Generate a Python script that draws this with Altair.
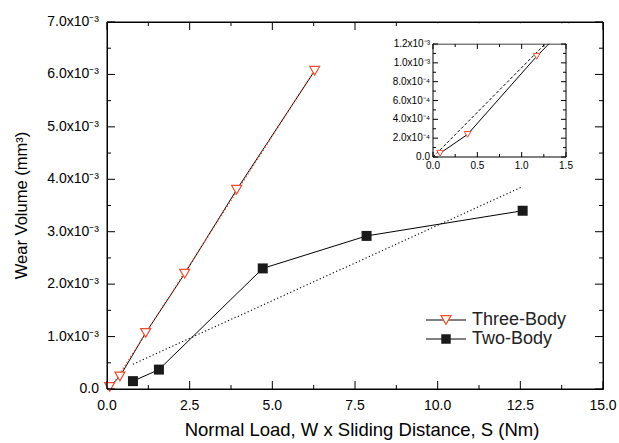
import altair as alt
import pandas as pd

# ---------------- data ----------------
three_x = [0.08, 0.39, 1.17, 2.35, 3.92, 6.28]
three_y = [0.00004, 0.00024, 0.00107, 0.00220, 0.00380, 0.00607]
two_x = [0.785, 1.57, 4.71, 7.85, 12.57]
two_y = [0.00015, 0.00037, 0.00230, 0.00292, 0.00340]
inset_fit_x = [0.0, 1.264]
inset_fit_y = [0.0, 0.0012]

x_major = [0.0, 2.5, 5.0, 7.5, 10.0, 12.5, 15.0]
x_labels = ["0.0", "2.5", "5.0", "7.5", "10.0", "12.5", "15.0"]
x_minor = [1.25, 3.75, 6.25, 8.75, 11.25, 13.75]
y_major = [0.0, 0.001, 0.002, 0.003, 0.004, 0.005, 0.006, 0.007]
y_labels = ["0.0", "1.0x10⁻³", "2.0x10⁻³", "3.0x10⁻³", "4.0x10⁻³",
            "5.0x10⁻³", "6.0x10⁻³", "7.0x10⁻³"]
y_minor = [0.0005, 0.0015, 0.0025, 0.0035, 0.0045, 0.0055, 0.0065]
ix_major = [0.0, 0.5, 1.0, 1.5]
ix_labels = ["0.0", "0.5", "1.0", "1.5"]
ix_minor = [0.25, 0.75, 1.25]
iy_major = [0.0, 0.0002, 0.0004, 0.0006, 0.0008, 0.0010, 0.0012]
iy_labels = ["0.0", "2.0x10⁻⁴", "4.0x10⁻⁴", "6.0x10⁻⁴", "8.0x10⁻⁴",
             "1.0x10⁻³", "1.2x10⁻³"]
iy_minor = [0.0001, 0.0003, 0.0005, 0.0007, 0.0009, 0.0011]

series_names = ["Three-Body", "Two-Body"]
x_title = "Normal Load, W x Sliding Distance, S  (Nm)"
y_title = "Wear Volume (mm³)"

df3 = pd.DataFrame({"x": three_x, "y": three_y})
df2 = pd.DataFrame({"x": two_x, "y": two_y})
dfi = pd.DataFrame({"x": inset_fit_x, "y": inset_fit_y})
dfi3 = df3[df3["x"] <= max(ix_major)]
dframe = pd.DataFrame({"x": [min(ix_major)], "x2": [max(ix_major)],
                       "y": [min(iy_major)], "y2": [max(iy_major)]})
dmframe = pd.DataFrame({"x": [min(x_major)], "x2": [max(x_major)],
                        "y": [min(y_major)], "y2": [max(y_major)]})

# ---------------- layout ----------------
W, H = 496, 367
IL, IR, IT, IB = 326, 459, 22, 135
FONT = "Liberation Sans"
RED = "#EE4D2D"
MAJ, MIN = 8, 4
IMAJ, IMIN = 5, 3

main_xs = alt.Scale(domain=[0, 15], nice=False, zero=False)
main_ys = alt.Scale(domain=[0, 0.007], nice=False, zero=False)
in_xs = alt.Scale(domain=[0, 1.5], range=[IL, IR], nice=False, zero=False)
in_ys = alt.Scale(domain=[0, 0.0012], range=[IB, IT], nice=False, zero=False)


def MX(f="x"):
    return alt.X(f"{f}:Q", scale=main_xs, axis=None)


def MY(f="y"):
    return alt.Y(f"{f}:Q", scale=main_ys, axis=None)


def IX(f="x"):
    return alt.X(f"{f}:Q", scale=in_xs, axis=None)


def IY(f="y"):
    return alt.Y(f"{f}:Q", scale=in_ys, axis=None)


def vticks(values, X, y0, y1):
    return alt.Chart(pd.DataFrame({"v": values})).mark_rule(
        color="black", strokeWidth=1).encode(x=X("v"), y=alt.value(y0), y2=alt.value(y1))


def hticks(values, Y, x0, x1):
    return alt.Chart(pd.DataFrame({"v": values})).mark_rule(
        color="black", strokeWidth=1).encode(y=Y("v"), x=alt.value(x0), x2=alt.value(x1))


def xlabels(values, labels, X, ypos, size):
    return alt.Chart(pd.DataFrame({"v": values, "t": labels})).mark_text(
        font=FONT, fontSize=size, color="black", align="center", baseline="middle").encode(
        x=X("v"), y=alt.value(ypos), text="t:N")


def ylabels(values, labels, Y, xpos, size):
    return alt.Chart(pd.DataFrame({"v": values, "t": labels})).mark_text(
        font=FONT, fontSize=size, color="black", align="right", baseline="middle").encode(
        y=Y("v"), x=alt.value(xpos), text="t:N")


one = pd.DataFrame({"a": [0]})

# ---------------- main plot ----------------
m_frame = alt.Chart(dmframe).mark_rect(fillOpacity=0, stroke="black", strokeWidth=1).encode(
    x=MX(), x2="x2:Q", y=MY(), y2="y2:Q")
m_line3 = alt.Chart(df3).mark_line(color="black", strokeWidth=1).encode(x=MX(), y=MY())
m_fit3 = alt.Chart(df3).transform_regression("x", "y").mark_line(
    color=RED, strokeWidth=1.3, strokeDash=[1.3, 2.2]).encode(x=MX(), y=MY())
m_line2 = alt.Chart(df2).mark_line(color="black", strokeWidth=1).encode(x=MX(), y=MY())
m_fit2 = alt.Chart(df2).transform_regression("x", "y").mark_line(
    color="black", strokeWidth=1.1, strokeDash=[1.2, 2.4]).encode(x=MX(), y=MY())
m_pts3 = alt.Chart(df3).mark_point(shape="triangle-down", size=100, filled=True,
                                   fill="white", stroke=RED, strokeWidth=1.2,
                                   opacity=1).encode(x=MX(), y=MY())
m_pts2 = alt.Chart(df2).mark_point(shape="square", size=100, filled=True,
                                   color="#1a1a1a", opacity=1).encode(x=MX(), y=MY())

m_ticks = [
    vticks(x_major, MX, H, H - MAJ), vticks(x_minor, MX, H, H - MIN),
    vticks(x_major, MX, 0, MAJ), vticks(x_minor, MX, 0, MIN),
    hticks(y_major, MY, 0, MAJ), hticks(y_minor, MY, 0, MIN),
    hticks(y_major, MY, W, W - MAJ), hticks(y_minor, MY, W, W - MIN),
]
m_labels = [
    xlabels(x_major, x_labels, MX, H + 17, 14),
    ylabels(y_major, y_labels, MY, -8, 14),
]
m_titles = [
    alt.Chart(one).mark_text(font=FONT, fontSize=18.5, color="black", align="center",
                             baseline="middle", text=x_title).encode(
        x=alt.value(255), y=alt.value(H + 41)),
    alt.Chart(one).mark_text(font=FONT, fontSize=16.5, color="black", align="center",
                             baseline="middle", angle=270, text=y_title).encode(
        x=alt.value(-85), y=alt.value(H / 2)),
]

# legend (drawn inside the main plot)
LX0, LX1, LM, LT = 319, 359, 339, 365
LY = [298, 317]
leg = []
for i, name in enumerate(series_names):
    leg.append(alt.Chart(one).mark_rule(color="black", strokeWidth=1).encode(
        x=alt.value(LX0), x2=alt.value(LX1), y=alt.value(LY[i])))
    if i == 0:
        leg.append(alt.Chart(one).mark_point(shape="triangle-down", size=100, filled=True,
                                             fill="white", stroke=RED, strokeWidth=1.2,
                                             opacity=1).encode(
            x=alt.value(LM), y=alt.value(LY[i])))
    else:
        leg.append(alt.Chart(one).mark_point(shape="square", size=90, filled=True,
                                             color="#1a1a1a", opacity=1).encode(
            x=alt.value(LM), y=alt.value(LY[i])))
    leg.append(alt.Chart(one).mark_text(align="left", baseline="middle", font=FONT,
                                        fontSize=18, color="#222222",
                                        text=name).encode(
        x=alt.value(LT), y=alt.value(LY[i])))

main = alt.layer(m_line3, m_fit3, m_line2, m_fit2, m_pts3, m_pts2, m_frame,
                 *m_ticks, *m_labels, *m_titles, *leg)

# ---------------- inset ----------------
mask = alt.Chart(one).mark_rect(color="white").encode(
    x=alt.value(IL + 1), x2=alt.value(IR + 14), y=alt.value(1.2), y2=alt.value(IT - 0.5))
frame = alt.Chart(dframe).mark_rect(fill="white", stroke="black", strokeWidth=1).encode(
    x=IX(), x2="x2:Q", y=IY(), y2="y2:Q")
i_line = alt.Chart(df3).mark_line(color="black", strokeWidth=1, clip=True).encode(x=IX(), y=IY())
i_fit = alt.Chart(dfi).mark_line(color="black", strokeWidth=1, strokeDash=[3, 2]).encode(x=IX(), y=IY())
i_pts = alt.Chart(dfi3).mark_point(
    shape="triangle-down", size=45, filled=True, fill="white", stroke=RED,
    strokeWidth=1, opacity=1).encode(x=IX(), y=IY())

i_ticks = [
    vticks(ix_major, IX, IB, IB - IMAJ), vticks(ix_minor, IX, IB, IB - IMIN),
    vticks(ix_major, IX, IT, IT + IMAJ), vticks(ix_minor, IX, IT, IT + IMIN),
    hticks(iy_major, IY, IL, IL + IMAJ), hticks(iy_minor, IY, IL, IL + IMIN),
    hticks(iy_major, IY, IR, IR - IMAJ), hticks(iy_minor, IY, IR, IR - IMIN),
]
i_labels = [
    xlabels(ix_major, ix_labels, IX, IB + 9, 10),
    ylabels(iy_major, iy_labels, IY, IL - 3, 10),
]

inset = alt.layer(frame, i_line, mask, i_fit, i_pts, *i_ticks, *i_labels)

chart = alt.layer(main, inset).resolve_scale(
    x="independent", y="independent").properties(
    width=W, height=H,
    padding={"left": 107, "top": 22, "right": 16, "bottom": 54},
    autosize=alt.AutoSizeParams(type="none"),
    background="white").configure_view(stroke="black", strokeWidth=1)

chart.save("out.html", embed_options={"renderer": "svg", "actions": False})
